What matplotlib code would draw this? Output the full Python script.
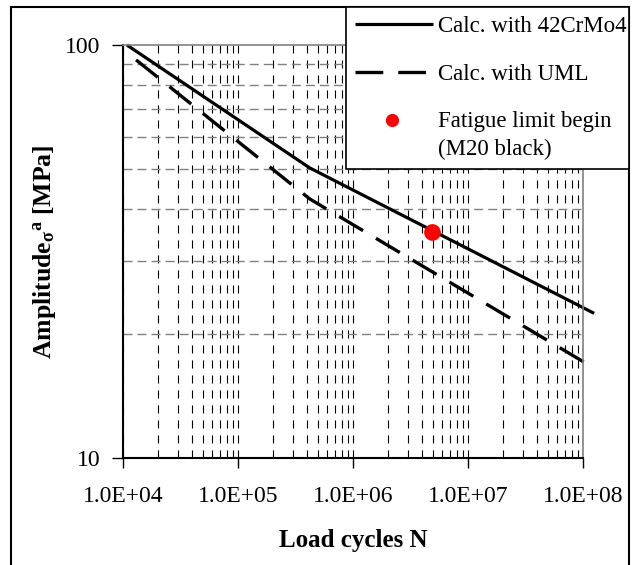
import matplotlib
matplotlib.use("Agg")
from matplotlib import pyplot as plt
from matplotlib.legend_handler import HandlerLine2D
from matplotlib.patches import Rectangle
from matplotlib.transforms import Affine2D
from matplotlib.ticker import LogLocator, NullFormatter

plt.rcParams['font.family'] = ['Liberation Serif', 'DejaVu Serif']
plt.rcParams['mathtext.fontset'] = 'custom'
plt.rcParams['mathtext.rm'] = 'Liberation Serif:bold'
plt.rcParams['mathtext.it'] = 'Liberation Serif:bold'
plt.rcParams['mathtext.bf'] = 'Liberation Serif:bold'
plt.rcParams['lines.scale_dashes'] = False

# data
cycles_42crmo4 = [1.08e4, 4.2e5, 1.25e8]
amp_42crmo4 = [100, 50.4, 22.4]
cycles_uml = [1.3e4, 4.2e5, 1.25e8]
amp_uml = [92, 42.4, 16.5]
limit_cycles = [4.9e6]
limit_amp = [35.2]

x_ticks = [1e4, 1e5, 1e6, 1e7, 1e8]
y_ticks = [10, 100]
labels = ['Calc. with 42CrMo4', 'Calc. with UML', 'Fatigue limit begin\n(M20 black)']


class ShiftedDot(HandlerLine2D):
    # put the dot on the first line of a two-line label
    def create_artists(self, legend, orig_handle, xdescent, ydescent, width, height, fontsize, trans):
        arts = super().create_artists(legend, orig_handle, xdescent, ydescent, width, height, fontsize, trans)
        for a in arts:
            a.set_transform(trans + Affine2D().translate(-2, 15))
        return arts


fig = plt.figure(figsize=(6.33, 5.65), dpi=100)
ax = fig.add_axes([0.1943, 0.1894, 0.7267, 0.731])

l1, = ax.plot(cycles_42crmo4, amp_42crmo4, color='black', lw=2.3, solid_capstyle='butt', clip_on=False)
l2, = ax.plot(cycles_uml, amp_uml, color='black', lw=2.4, ls=(0, (20, 10.8)), dash_capstyle='butt', clip_on=False)
l3, = ax.plot(limit_cycles, limit_amp, 'o', color='#ff0000', ms=11, clip_on=False, zorder=5)

ax.set_xscale('log')
ax.set_yscale('log')
ax.set_xlim(1e4, 1e8)
ax.set_ylim(10, 100)

ax.set_xticks(x_ticks, [f'{v:.1E}' for v in x_ticks])
ax.set_yticks(y_ticks, [str(v) for v in y_ticks])
ax.xaxis.set_minor_locator(LogLocator(base=10, subs=range(2, 10)))
ax.yaxis.set_minor_locator(LogLocator(base=10, subs=range(2, 10)))
ax.xaxis.set_minor_formatter(NullFormatter())
ax.yaxis.set_minor_formatter(NullFormatter())
ax.tick_params(which='minor', length=0)
ax.tick_params(axis='x', which='major', length=7, width=1, pad=13, labelsize=17)
ax.tick_params(axis='y', which='major', length=8, width=1, pad=8, labelsize=17)

ax.grid(which='both', axis='x', color='black', lw=0.8, ls=(0, (5.8, 5)))
ax.grid(which='minor', axis='y', color='#808080', lw=1.0, ls=(0, (6.5, 3.6)))

for s in ['top', 'right']:
    ax.spines[s].set_color('#808080')
    ax.spines[s].set_linewidth(1.2)
for s in ['left', 'bottom']:
    ax.spines[s].set_linewidth(1.5)

ax.set_xlabel('Load cycles N', fontsize=18, fontweight='bold')
ax.set_ylabel(r'Amplitude$_{\sigma}$$^{a}$ [MPa]', fontsize=18.5, fontweight='bold')
ax.xaxis.label.set_va('center')
ax.yaxis.label.set_va('center')
ax.xaxis.set_label_coords(0.5, -0.2)
ax.yaxis.set_label_coords(-0.17, 0.5)

leg = fig.legend([l1, l2, l3], labels, loc='upper left',
                 bbox_to_anchor=(0.5466, 0.7044, 0.4471, 0.2832), mode='expand',
                 borderaxespad=0, fontsize=16.5, handlelength=3.4, handletextpad=0.22,
                 labelspacing=1.15, borderpad=0.4, fancybox=False, markerscale=0.77,
                 handler_map={l3: ShiftedDot()})
for t in leg.get_texts():
    t.set_linespacing(1.4)
leg.get_frame().set_edgecolor('black')
leg.get_frame().set_linewidth(1.2)
leg.get_frame().set_alpha(1)

# outer frame of the figure
fig.patches.append(Rectangle((11 / 633, -0.05), 618 / 633, 1 - 7 / 565 + 0.05,
                             transform=fig.transFigure, fill=False, ec='black', lw=1.5))

plt.savefig('out.png', dpi=100)
